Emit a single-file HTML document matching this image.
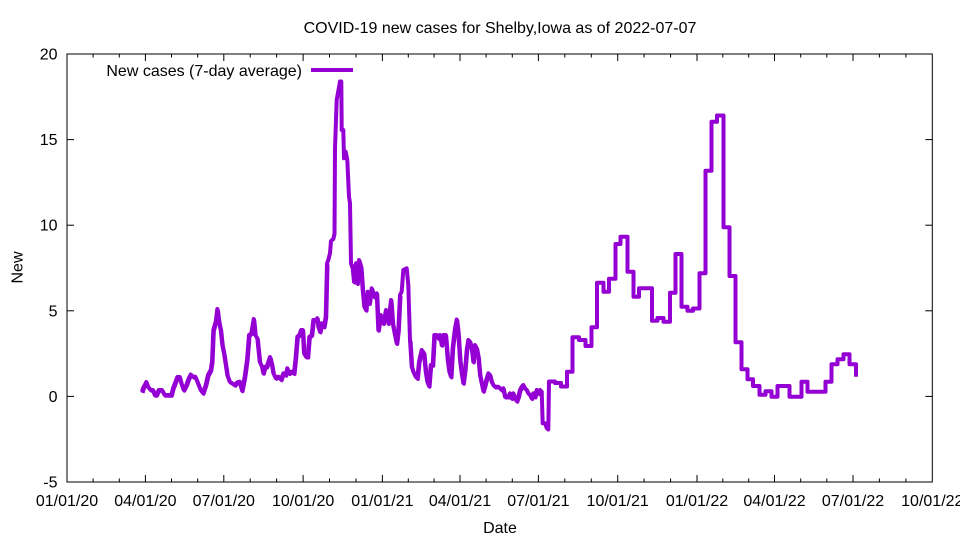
<!DOCTYPE html>
<html>
<head>
<meta charset="utf-8">
<style>
  html,body{margin:0;padding:0;background:#fff;}
  svg{display:block;}
  text{font-family:"Liberation Sans",Arial,sans-serif;font-size:16px;fill:#000;}
</style>
</head>
<body>
<svg width="960" height="540" viewBox="0 0 960 540" xmlns="http://www.w3.org/2000/svg">
  <rect x="0" y="0" width="960" height="540" fill="#fff"/>

  <!-- title -->
  <text x="500" y="33" text-anchor="middle">COVID-19 new cases for Shelby,Iowa as of 2022-07-07</text>

  <!-- y ticks (left & right) -->
  <g stroke="#000" stroke-width="1">
    <line x1="67" y1="54" x2="74" y2="54"/><line x1="932.3" y1="54" x2="925.3" y2="54"/>
    <line x1="67" y1="139.6" x2="74" y2="139.6"/><line x1="932.3" y1="139.6" x2="925.3" y2="139.6"/>
    <line x1="67" y1="225.2" x2="74" y2="225.2"/><line x1="932.3" y1="225.2" x2="925.3" y2="225.2"/>
    <line x1="67" y1="310.8" x2="74" y2="310.8"/><line x1="932.3" y1="310.8" x2="925.3" y2="310.8"/>
    <line x1="67" y1="396.4" x2="74" y2="396.4"/><line x1="932.3" y1="396.4" x2="925.3" y2="396.4"/>
    <line x1="67" y1="482" x2="74" y2="482"/><line x1="932.3" y1="482" x2="925.3" y2="482"/>
  </g>
  <g text-anchor="end">
    <text x="57.5" y="59.5">20</text>
    <text x="57.5" y="145.1">15</text>
    <text x="57.5" y="230.7">10</text>
    <text x="57.5" y="316.3">5</text>
    <text x="57.5" y="401.9">0</text>
    <text x="57.5" y="487.5">-5</text>
  </g>

  <!-- x ticks major (bottom & top) -->
  <g stroke="#000" stroke-width="1">
    <line x1="67" y1="482" x2="67" y2="475"/><line x1="67" y1="54" x2="67" y2="61"/>
    <line x1="145.4" y1="482" x2="145.4" y2="475"/><line x1="145.4" y1="54" x2="145.4" y2="61"/>
    <line x1="223.8" y1="482" x2="223.8" y2="475"/><line x1="223.8" y1="54" x2="223.8" y2="61"/>
    <line x1="303.1" y1="482" x2="303.1" y2="475"/><line x1="303.1" y1="54" x2="303.1" y2="61"/>
    <line x1="382.4" y1="482" x2="382.4" y2="475"/><line x1="382.4" y1="54" x2="382.4" y2="61"/>
    <line x1="460" y1="482" x2="460" y2="475"/><line x1="460" y1="54" x2="460" y2="61"/>
    <line x1="538.4" y1="482" x2="538.4" y2="475"/><line x1="538.4" y1="54" x2="538.4" y2="61"/>
    <line x1="617.7" y1="482" x2="617.7" y2="475"/><line x1="617.7" y1="54" x2="617.7" y2="61"/>
    <line x1="697" y1="482" x2="697" y2="475"/><line x1="697" y1="54" x2="697" y2="61"/>
    <line x1="774.5" y1="482" x2="774.5" y2="475"/><line x1="774.5" y1="54" x2="774.5" y2="61"/>
    <line x1="853" y1="482" x2="853" y2="475"/><line x1="853" y1="54" x2="853" y2="61"/>
  </g>
  <!-- x ticks minor -->
  <g stroke="#000" stroke-width="1">
    <line x1="93.1" y1="482" x2="93.1" y2="478.5"/><line x1="93.1" y1="54" x2="93.1" y2="57.5"/>
    <line x1="119.3" y1="482" x2="119.3" y2="478.5"/><line x1="119.3" y1="54" x2="119.3" y2="57.5"/>
    <line x1="171.5" y1="482" x2="171.5" y2="478.5"/><line x1="171.5" y1="54" x2="171.5" y2="57.5"/>
    <line x1="197.7" y1="482" x2="197.7" y2="478.5"/><line x1="197.7" y1="54" x2="197.7" y2="57.5"/>
    <line x1="250.2" y1="482" x2="250.2" y2="478.5"/><line x1="250.2" y1="54" x2="250.2" y2="57.5"/>
    <line x1="276.6" y1="482" x2="276.6" y2="478.5"/><line x1="276.6" y1="54" x2="276.6" y2="57.5"/>
    <line x1="329.5" y1="482" x2="329.5" y2="478.5"/><line x1="329.5" y1="54" x2="329.5" y2="57.5"/>
    <line x1="356" y1="482" x2="356" y2="478.5"/><line x1="356" y1="54" x2="356" y2="57.5"/>
    <line x1="408.3" y1="482" x2="408.3" y2="478.5"/><line x1="408.3" y1="54" x2="408.3" y2="57.5"/>
    <line x1="434.1" y1="482" x2="434.1" y2="478.5"/><line x1="434.1" y1="54" x2="434.1" y2="57.5"/>
    <line x1="486.1" y1="482" x2="486.1" y2="478.5"/><line x1="486.1" y1="54" x2="486.1" y2="57.5"/>
    <line x1="512.3" y1="482" x2="512.3" y2="478.5"/><line x1="512.3" y1="54" x2="512.3" y2="57.5"/>
    <line x1="564.8" y1="482" x2="564.8" y2="478.5"/><line x1="564.8" y1="54" x2="564.8" y2="57.5"/>
    <line x1="591.3" y1="482" x2="591.3" y2="478.5"/><line x1="591.3" y1="54" x2="591.3" y2="57.5"/>
    <line x1="644.1" y1="482" x2="644.1" y2="478.5"/><line x1="644.1" y1="54" x2="644.1" y2="57.5"/>
    <line x1="670.6" y1="482" x2="670.6" y2="478.5"/><line x1="670.6" y1="54" x2="670.6" y2="57.5"/>
    <line x1="722.8" y1="482" x2="722.8" y2="478.5"/><line x1="722.8" y1="54" x2="722.8" y2="57.5"/>
    <line x1="748.7" y1="482" x2="748.7" y2="478.5"/><line x1="748.7" y1="54" x2="748.7" y2="57.5"/>
    <line x1="800.7" y1="482" x2="800.7" y2="478.5"/><line x1="800.7" y1="54" x2="800.7" y2="57.5"/>
    <line x1="826.8" y1="482" x2="826.8" y2="478.5"/><line x1="826.8" y1="54" x2="826.8" y2="57.5"/>
    <line x1="879.4" y1="482" x2="879.4" y2="478.5"/><line x1="879.4" y1="54" x2="879.4" y2="57.5"/>
    <line x1="905.9" y1="482" x2="905.9" y2="478.5"/><line x1="905.9" y1="54" x2="905.9" y2="57.5"/>
  </g>
  <g text-anchor="middle">
    <text x="67" y="506">01/01/20</text>
    <text x="145.4" y="506">04/01/20</text>
    <text x="223.8" y="506">07/01/20</text>
    <text x="303.1" y="506">10/01/20</text>
    <text x="382.4" y="506">01/01/21</text>
    <text x="460" y="506">04/01/21</text>
    <text x="538.4" y="506">07/01/21</text>
    <text x="617.7" y="506">10/01/21</text>
    <text x="697" y="506">01/01/22</text>
    <text x="774.5" y="506">04/01/22</text>
    <text x="853" y="506">07/01/22</text>
    <text x="932.3" y="506">10/01/22</text>
  </g>

  <!-- axis labels -->
  <text x="500" y="533" text-anchor="middle">Date</text>
  <text transform="translate(22.5,267.5) rotate(-90)" text-anchor="middle">New</text>

  <!-- series: noisy part thickening copy -->
  <path fill="none" stroke="#9400d3" stroke-width="3.5" stroke-linejoin="round" transform="translate(0.8,1)"
    d="M142,392 L143,388.3 L146.3,382 L148,386.7 L150.7,390 L153,390 L154.7,395 L156.3,395 L158.7,390 L162,390 L164.7,395 L171.3,395 L173,388.3 L175.3,382.3 L177.3,377 L179.7,377 L181.3,383.3 L183.7,390 L186.3,385 L188.7,378.3 L190.7,374.5 L193,376.7 L195.3,376.7 L198,383.3 L200.7,390 L203,393 L205.7,385 L208,375 L210.7,370 L212,361.7 L213.3,330 L215.7,321.7 L217.3,309 L219,321.7 L220.7,330 L222.3,345 L224,353.3 L225.3,361.7 L227.3,375 L229.7,381.7 L232.3,383.3 L234.7,385 L237.3,382.3 L239.7,381.7 L242,390.5 L244.7,376.7 L247,360 L249,335 L251.3,333.3 L253.7,319 L255.3,335 L257.3,338.3 L259.7,361.7 L262,366.7 L263.3,373 L265,366.7 L266.7,366.7 L270,357 L271.7,363.3 L273.3,373 L275.7,378 L278.3,376.7 L281,379.5 L283.3,373.3 L285.7,375 L287.3,368.3 L289.3,373.3 L291.7,371.7 L294,373.3 L295.7,356.7 L297.3,336.7 L299.3,335 L301,330 L302.7,330 L304,353.3 L306,356.7 L307.7,356.7 L309.3,336.7 L311.7,335 L313.3,320 L315.7,320 L317.3,318.3 L318.3,326.7 L320,331.7 L321.7,323.3 L324,326.7 L325.7,316.7 L327,263.3"/>
  <path fill="none" stroke="#9400d3" stroke-width="3.5" stroke-linejoin="round" transform="translate(0.8,1)"
    d="M351,263.3 L352.7,268.3 L354,281.7 L356,263.3 L357.3,283.3 L359,260 L361,266.7 L362.7,290 L364.3,306.7 L366,310 L367.7,291.7 L369.3,303.3 L371.7,288.3 L374.3,296.7 L376.7,293.3 L378.3,330 L380.7,315 L383.3,323.3 L386,310 L388.3,323.3 L391,300 L392.7,323.3 L395,335 L396.7,343.3 L398.3,330 L400,295 M410,340 L411.7,366.7 L413.3,371.7 L415.7,376.7 L417.3,378.3 L419,361.7 L421.7,350 L424,353.3 L425.7,371.7 L427.3,381.7 L429,386 L430.7,365 L432.7,365 L434.3,335 L436.7,335 L438.3,338.3 L440,335 L441.7,345 L443.3,335 L445.7,335 L447.7,360 L449.3,371.7 L451,376.7 L452.7,346.7 L455,328.3 L456.7,319.5 L458.3,333.3 L460,360 L461.7,373.3 L463.3,383 L465,370 L466.7,350 L468.3,340 L470,341.7 L471.7,348.3 L473.3,361.7 L475,345 L476.7,348.3 L478.3,356.7 L480,375 L481.7,383.3 L483.3,391 L485,385 L486.7,378.3 L488.3,373.3 L490,375 L491.7,381.7 L493.3,385 L495,386.7 L498.3,386.7 L500,388.3 L501.7,390 L503.3,388.3 L505,396.7 L508.3,396.7 L510,393.3 L511.7,398.3 L513.3,393.3 L515,398.3 L516.7,401 L518.3,396.7 L520,390 L521.7,386.7 L523.3,385 L525,388.3 L526.7,390 L528.3,393.3 L530,395 L531.7,398.3 L533.3,393.3 L535,396.7 L536.7,390 L538.3,393.3 L540,390 L541.7,391.7"/>

  <!-- series main -->
  <path fill="none" stroke="#9400d3" stroke-width="4" stroke-linejoin="round" stroke-linecap="butt"
    d="M142,392 L143,388.3 L146.3,382 L148,386.7 L150.7,390 L153,390 L154.7,395 L156.3,395 L158.7,390 L162,390 L164.7,395 L171.3,395 L173,388.3 L175.3,382.3 L177.3,377 L179.7,377 L181.3,383.3 L183.7,390 L186.3,385 L188.7,378.3 L190.7,374.5 L193,376.7 L195.3,376.7 L198,383.3 L200.7,390 L203,393 L205.7,385 L208,375 L210.7,370 L212,361.7 L213.3,330 L215.7,321.7 L217.3,309 L219,321.7 L220.7,330 L222.3,345 L224,353.3 L225.3,361.7 L227.3,375 L229.7,381.7 L232.3,383.3 L234.7,385 L237.3,382.3 L239.7,381.7 L242,390.5 L244.7,376.7 L247,360 L249,335 L251.3,333.3 L253.7,319 L255.3,335 L257.3,338.3 L259.7,361.7 L262,366.7 L263.3,373 L265,366.7 L266.7,366.7 L270,357 L271.7,363.3 L273.3,373 L275.7,378 L278.3,376.7 L281,379.5 L283.3,373.3 L285.7,375 L287.3,368.3 L289.3,373.3 L291.7,371.7 L294,373.3 L295.7,356.7 L297.3,336.7 L299.3,335 L301,330 L302.7,330 L304,353.3 L306,356.7 L307.7,356.7 L309.3,336.7 L311.7,335 L313.3,320 L315.7,320 L317.3,318.3 L318.3,326.7 L320,331.7 L321.7,323.3 L324,326.7 L325.7,316.7 L327,263.3 L328.3,260 L330,253.3 L331,241 L333.3,239 L334.5,234 L335,148.3 L336.7,100 L338.3,91 L340,81.5 L341.3,81.5 L341.7,130 L343.3,130 L344,158.3 L345.7,151.7 L347.3,160 L349,196.7 L350,203.3 L351,263.3 L352.7,268.3 L354,281.7 L356,263.3 L357.3,283.3 L359,260 L361,266.7 L362.7,290 L364.3,306.7 L366,310 L367.7,291.7 L369.3,303.3 L371.7,288.3 L374.3,296.7 L376.7,293.3 L378.3,330 L380.7,315 L383.3,323.3 L386,310 L388.3,323.3 L391,300 L392.7,323.3 L395,335 L396.7,343.3 L398.3,330 L400,295 L401.7,291.7 L403.3,270 L406.7,268.3 L408.3,285 L410,340 L411.7,366.7 L413.3,371.7 L415.7,376.7 L417.3,378.3 L419,361.7 L421.7,350 L424,353.3 L425.7,371.7 L427.3,381.7 L429,386 L430.7,365 L432.7,365 L434.3,335 L436.7,335 L438.3,338.3 L440,335 L441.7,345 L443.3,335 L445.7,335 L447.7,360 L449.3,371.7 L451,376.7 L452.7,346.7 L455,328.3 L456.7,319.5 L458.3,333.3 L460,360 L461.7,373.3 L463.3,383 L465,370 L466.7,350 L468.3,340 L470,341.7 L471.7,348.3 L473.3,361.7 L475,345 L476.7,348.3 L478.3,356.7 L480,375 L481.7,383.3 L483.3,391 L485,385 L486.7,378.3 L488.3,373.3 L490,375 L491.7,381.7 L493.3,385 L495,386.7 L498.3,386.7 L500,388.3 L501.7,390 L503.3,388.3 L505,396.7 L508.3,396.7 L510,393.3 L511.7,398.3 L513.3,393.3 L515,398.3 L516.7,401 L518.3,396.7 L520,390 L521.7,386.7 L523.3,385 L525,388.3 L526.7,390 L528.3,393.3 L530,395 L531.7,398.3 L533.3,393.3 L535,396.7 L536.7,390 L538.3,393.3 L540,390 L541.7,391.7 L542.7,423.3 L545,423.3 L546.7,428 L548.3,429.5 L549,381.5 H555 V383 H561 V386.5 H567 V371.7 H572.5 V337.3 H579 V340 H585.5 V346 H591.5 V327.3 H597 V282.7 H603.5 V291.7 H609 V278.7 H615.5 V244 H620.5 V236.7 H627.5 V271.7 H633.5 V296.7 H639 V288.3 H652 V320.7 H657.5 V318 H663.5 V321.7 H670 V292.7 H675.5 V254 H681.5 V306.7 H687.5 V310.7 H693 V308.5 H699.5 V273.3 H705.5 V170.7 H711.5 V121.7 H717 V115.5 H723.5 V227.3 H729.5 V276 H735.5 V342.3 H741.5 V369.3 H747.5 V379.3 H753 V386 H759.5 V394.7 H765.5 V391.3 H771.5 V396.7 H777.5 V386 H789.5 V396.7 H801.5 V381.7 H807.5 V391.7 H825.5 V381.7 H831.5 V364.3 H837.5 V359.3 H843.5 V354.3 H849.5 V364.3 H856 V376.7"/>

  <!-- legend -->
  <text x="302" y="76" text-anchor="end">New cases (7-day average)</text>
  <line x1="311" y1="70" x2="353" y2="70" stroke="#9400d3" stroke-width="4"/>

  <!-- border -->
  <rect x="67" y="54" width="865.3" height="428" fill="none" stroke="#000" stroke-width="1"/>
</svg>
</body>
</html>
